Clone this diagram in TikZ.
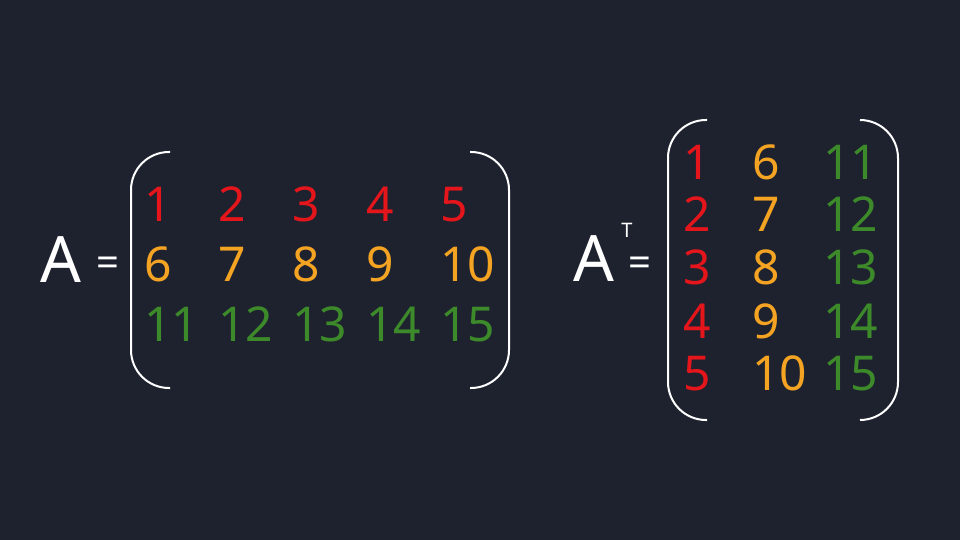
\documentclass[tikz,border=0pt]{standalone}
\usepackage{fontspec}
\setmainfont{Noto Sans}
\definecolor{bgcol}{HTML}{1E222F}
\definecolor{rowred}{HTML}{E4151B}
\definecolor{rowora}{HTML}{F4A422}
\definecolor{rowgrn}{HTML}{3D8A2A}
\tikzset{
  entry/.style={inner sep=0pt,anchor=base west,font=\fontsize{24}{24}\selectfont},
  er/.style={entry,text=rowred},
  eo/.style={entry,text=rowora},
  eg/.style={entry,text=rowgrn},
  bigA/.style={inner sep=0pt,anchor=base west,text=white,font=\fontsize{32}{32}\selectfont},
  eqsign/.style={inner sep=0pt,text=white,font=\fontsize{20}{20}\selectfont},
  paren/.style={draw=white,line width=1pt,rounded corners=19pt}
}
\begin{document}
\begin{tikzpicture}
[x=0.5pt,y=-0.5pt]
\fill[bgcol] (0,0) rectangle (960,540);
% left: A
\node[bigA] (A) at (40,283) {A};
\node[eqsign] (eqA) at (108,267) {=};
\draw[paren] (170,152) -- (131,152) -- (131,388) -- (170,388);
\draw[paren] (470,152) -- (509,152) -- (509,388) -- (470,388);
\node[er] (l11) at (144,222) {1};
\node[er] (l12) at (218,222) {2};
\node[er] (l13) at (292,222) {3};
\node[er] (l14) at (366,222) {4};
\node[er] (l15) at (440,222) {5};
\node[eo] (l21) at (144,282) {6};
\node[eo] (l22) at (218,282) {7};
\node[eo] (l23) at (292,282) {8};
\node[eo] (l24) at (366,282) {9};
\node[eo] (l25) at (440,282) {10};
\node[eg] (l31) at (144,342) {11};
\node[eg] (l32) at (218,342) {12};
\node[eg] (l33) at (292,342) {13};
\node[eg] (l34) at (366,342) {14};
\node[eg] (l35) at (440,342) {15};
% right: A transposed
\node[bigA] (At) at (573,282) {A};
\node[inner sep=0pt,text=white,font=\fontsize{10}{10}\selectfont] (T) at (627,230) {T};
\node[eqsign] (eqAt) at (640,267) {=};
\draw[paren] (707,120) -- (668,120) -- (668,420) -- (707,420);
\draw[paren] (860,120) -- (898,120) -- (898,420) -- (860,420);
\node[er] (r11) at (683,180) {1};
\node[eo] (r12) at (752,180) {6};
\node[eg] (r13) at (823,180) {11};
\node[er] (r21) at (683,232) {2};
\node[eo] (r22) at (752,232) {7};
\node[eg] (r23) at (823,232) {12};
\node[er] (r31) at (683,285) {3};
\node[eo] (r32) at (752,285) {8};
\node[eg] (r33) at (823,285) {13};
\node[er] (r41) at (683,338) {4};
\node[eo] (r42) at (752,338) {9};
\node[eg] (r43) at (823,338) {14};
\node[er] (r51) at (683,390) {5};
\node[eo] (r52) at (752,390) {10};
\node[eg] (r53) at (823,390) {15};
\end{tikzpicture}
\end{document}
